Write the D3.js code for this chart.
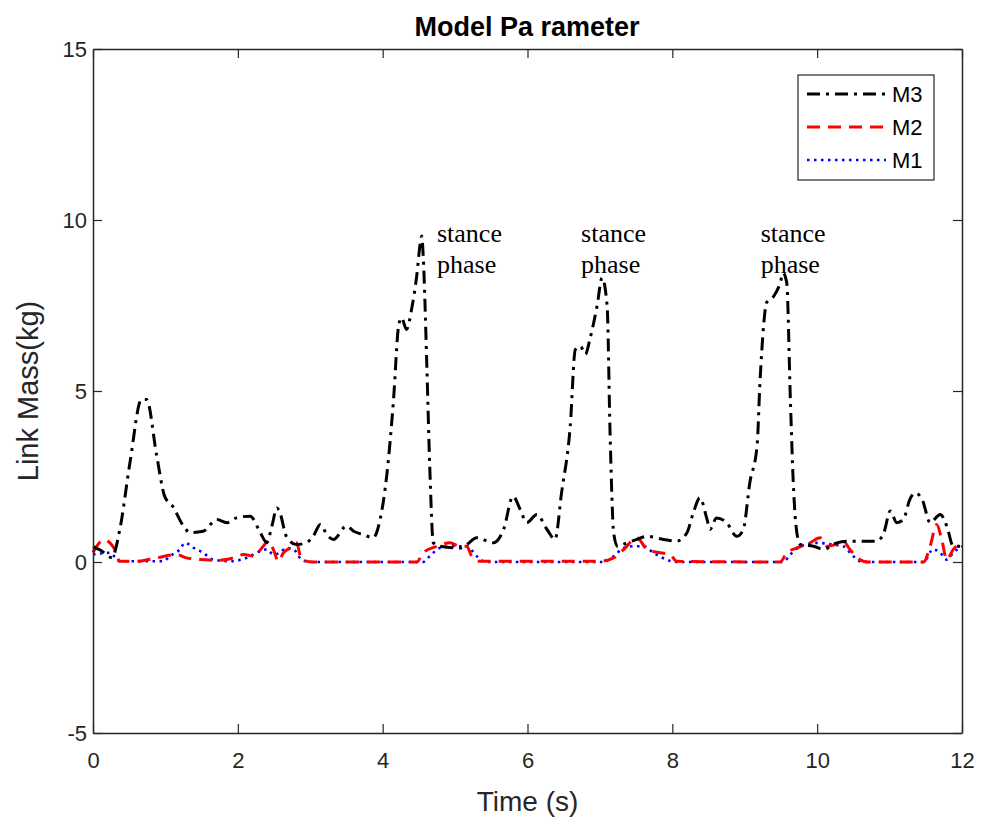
<!DOCTYPE html>
<html>
<head>
<meta charset="utf-8">
<script src="https://cdn.jsdelivr.net/npm/d3@7"></script>
<style>
  body { margin: 0; background: #fff; }
  svg { display: block; }
</style>
</head>
<body>
<div id="chart"></div>
<script>
// values
const m3Time = [0, 0.1, 0.26, 0.37, 0.51, 0.67, 0.74, 0.88, 0.99, 1.1, 1.25, 1.34, 1.52, 1.71, 1.85, 1.98, 2.17, 2.31, 2.4, 2.47, 2.54, 2.58, 2.67, 2.81, 2.95, 3.04, 3.14, 3.23, 3.32, 3.5, 3.6, 3.73, 3.87, 3.96, 4.06, 4.15, 4.22, 4.26, 4.33, 4.4, 4.47, 4.52, 4.54, 4.56, 4.61, 4.65, 4.7, 4.79, 5.07, 5.16, 5.3, 5.53, 5.67, 5.8, 5.9, 5.99, 6.13, 6.27, 6.38, 6.47, 6.59, 6.66, 6.73, 6.8, 6.86, 6.96, 7.03, 7.1, 7.14, 7.19, 7.24, 7.37, 7.51, 7.65, 7.88, 8.06, 8.2, 8.29, 8.38, 8.48, 8.52, 8.61, 8.75, 8.89, 8.98, 9.07, 9.17, 9.21, 9.26, 9.3, 9.4, 9.49, 9.53, 9.58, 9.63, 9.67, 9.72, 9.77, 9.95, 10.09, 10.27, 10.45, 10.82, 10.92, 11.01, 11.1, 11.19, 11.28, 11.35, 11.45, 11.56, 11.7, 11.79, 11.88, 12];
const m3Mass = [0.45, 0.35, 0.13, 0.95, 2.9, 4.75, 4.75, 3.1, 1.92, 1.63, 1.05, 0.86, 0.9, 1.24, 1.15, 1.29, 1.34, 0.86, 0.57, 1.05, 1.58, 1.45, 0.75, 0.51, 0.57, 0.75, 1.1, 0.8, 0.66, 1.05, 0.9, 0.8, 0.71, 1.2, 2.6, 4.75, 6.9, 7.14, 6.8, 7.4, 8.36, 9.33, 9.53, 8.94, 5.73, 2.8, 0.56, 0.46, 0.41, 0.51, 0.71, 0.56, 0.95, 1.92, 1.53, 1.15, 1.39, 0.95, 0.66, 2.02, 3.97, 6.21, 6.31, 6.07, 6.5, 7.48, 8.31, 7.48, 3.78, 0.85, 0.46, 0.56, 0.66, 0.75, 0.66, 0.61, 0.85, 1.44, 1.88, 1.24, 0.95, 1.29, 1.15, 0.75, 0.95, 2.32, 3.39, 5.24, 6.9, 7.58, 7.77, 8.16, 8.45, 8.16, 4.75, 2.32, 0.85, 0.51, 0.46, 0.37, 0.56, 0.61, 0.61, 0.85, 1.49, 1.15, 1.24, 1.83, 2.02, 1.83, 1.15, 1.39, 1.05, 0.46, 0.46];

const m2Time = [0, 0.15, 0.3, 0.37, 0.6, 0.88, 1.15, 1.29, 1.48, 1.75, 1.94, 2.08, 2.22, 2.35, 2.42, 2.49, 2.56, 2.63, 2.72, 2.81, 2.88, 3.04, 4.47, 4.56, 4.75, 4.93, 5.07, 5.16, 5.23, 5.35, 7.0, 7.19, 7.33, 7.51, 7.65, 7.83, 7.97, 8.06, 9.49, 9.58, 9.72, 9.9, 10.04, 10.14, 10.25, 10.36, 10.45, 10.59, 10.7, 11.47, 11.56, 11.65, 11.72, 11.79, 11.88, 12];
const m2Mass = [0.28, 0.65, 0.37, 0.02, 0.02, 0.12, 0.22, 0.12, 0.07, 0.05, 0.12, 0.22, 0.17, 0.46, 0.61, 0.37, 0.02, 0.27, 0.41, 0.56, 0.07, 0, 0, 0.27, 0.46, 0.56, 0.46, 0.46, 0.17, 0.02, 0.02, 0.12, 0.37, 0.71, 0.37, 0.27, 0.22, 0.02, 0, 0.27, 0.41, 0.56, 0.71, 0.46, 0.51, 0.61, 0.37, 0.07, 0, 0, 0.46, 1.1, 0.66, 0.07, 0.37, 0.6];

const m1Time = [0, 0.23, 0.37, 0.97, 1.06, 1.2, 1.27, 1.39, 1.52, 1.66, 1.91, 2.12, 2.31, 2.4, 2.49, 2.58, 2.67, 2.77, 2.88, 3.0, 4.56, 4.65, 4.79, 4.97, 5.16, 5.3, 5.42, 7.05, 7.19, 7.33, 7.47, 7.6, 7.74, 7.92, 8.05, 9.53, 9.63, 9.77, 10.0, 10.22, 10.36, 10.5, 10.62, 11.47, 11.6, 11.7, 11.79, 11.88, 12];
const m1Mass = [0.22, 0.27, 0.02, 0.02, 0.17, 0.37, 0.56, 0.41, 0.27, 0.07, 0.02, 0.12, 0.32, 0.37, 0.22, 0.27, 0.41, 0.37, 0.07, 0, 0, 0.17, 0.41, 0.46, 0.46, 0.17, 0, 0, 0.17, 0.41, 0.46, 0.46, 0.27, 0.07, 0, 0, 0.22, 0.46, 0.56, 0.51, 0.46, 0.17, 0, 0, 0.37, 0.27, 0.07, 0.27, 0.46];

const xTicks = [0, 2, 4, 6, 8, 10, 12];
const yTicks = [-5, 0, 5, 10, 15];
const seriesNames = ["M3", "M2", "M1"];
const noteTime = [4.75, 6.74, 9.22];
const noteLevel = 9.35;

const W = 985, H = 817;
const margin = {top: 49, right: 23, bottom: 84, left: 93};
const width = W - margin.left - margin.right,
      height = H - margin.top - margin.bottom;
const axisColor = "#262626";
const sans = "'Liberation Sans', Arial, sans-serif";

const svg = d3.select("#chart").append("svg")
  .attr("width", W).attr("height", H);

const x = d3.scaleLinear().domain([0, 12]).range([0, width]);
const y = d3.scaleLinear().domain([-5, 15]).range([height, 0]);

const g = svg.append("g").attr("transform", `translate(${margin.left},${margin.top})`);

// series styling, MATLAB-ish
const styles = {
  M3: {color: "#000000", dash: "13,6,3,6", width: 3},
  M2: {color: "#ff0000", dash: "13,8", width: 3},
  M1: {color: "#0000ff", dash: "2.5,4.5", width: 2.6}
};
const series = [
  {name: "M1", t: m1Time, v: m1Mass},
  {name: "M2", t: m2Time, v: m2Mass},
  {name: "M3", t: m3Time, v: m3Mass}
];

const line = d3.line()
  .x(d => x(d[0]))
  .y(d => y(d[1]))
  .curve(d3.curveMonotoneX);

g.selectAll("path.series")
  .data(series)
  .enter().append("path")
    .attr("class", "series")
    .attr("d", s => line(s.t.map((t, i) => [t, s.v[i]])))
    .attr("fill", "none")
    .attr("stroke", s => styles[s.name].color)
    .attr("stroke-width", s => styles[s.name].width)
    .attr("stroke-dasharray", s => styles[s.name].dash)
    .attr("stroke-linecap", "butt");

// axes (box on, ticks inward)
const tickLen = 9;
const fmt = d => String(d);
const xAxis = d3.axisBottom(x).tickValues(xTicks).tickFormat(fmt).tickSizeInner(-tickLen).tickSizeOuter(0).tickPadding(19);
const yAxis = d3.axisLeft(y).tickValues(yTicks).tickFormat(fmt).tickSizeInner(-tickLen).tickSizeOuter(0).tickPadding(6);

const gx = g.append("g").attr("transform", `translate(0,${height})`).call(xAxis);
const gy = g.append("g").call(yAxis);
const gxTop = g.append("g").call(d3.axisTop(x).tickValues(xTicks).tickSizeInner(-tickLen).tickSizeOuter(0).tickFormat(""));
const gyRight = g.append("g").attr("transform", `translate(${width},0)`)
  .call(d3.axisRight(y).tickValues(yTicks).tickSizeInner(-tickLen).tickSizeOuter(0).tickFormat(""));

[gx, gy, gxTop, gyRight].forEach(a => {
  a.select(".domain").attr("stroke", axisColor).attr("stroke-width", 1.5);
  a.selectAll(".tick line").attr("stroke", axisColor).attr("stroke-width", 1.2);
  a.selectAll(".tick text")
    .attr("fill", axisColor)
    .style("font-family", sans)
    .style("font-size", "22px");
});

// labels
svg.append("text")
  .attr("x", 527).attr("y", 36)
  .attr("text-anchor", "middle")
  .style("font-family", sans)
  .style("font-weight", "bold").style("font-size", "27px")
  .attr("fill", "#000")
  .text("Model Pa rameter");

svg.append("text")
  .attr("x", margin.left + width / 2).attr("y", 811)
  .attr("text-anchor", "middle")
  .style("font-family", sans)
  .style("font-size", "28px")
  .attr("fill", axisColor)
  .text("Time (s)");

svg.append("text")
  .attr("transform", `translate(38,${margin.top + height / 2}) rotate(-90)`)
  .attr("text-anchor", "middle")
  .style("font-family", sans)
  .style("font-size", "29px")
  .attr("fill", axisColor)
  .text("Link Mass(kg)");

// stance phase notes
const notes = g.selectAll("text.note")
  .data(noteTime)
  .enter().append("text")
    .attr("class", "note")
    .attr("x", d => x(d))
    .attr("y", y(noteLevel))
    .style("font-family", "'Liberation Serif', 'Times New Roman', serif")
    .style("font-size", "26px")
    .attr("fill", "#000");
notes.append("tspan").attr("x", d => x(d)).text("stance");
notes.append("tspan").attr("x", d => x(d)).attr("dy", 31).text("phase");

// legend
const legend = svg.append("g").attr("transform", "translate(798,75)");
legend.append("rect")
  .attr("width", 136).attr("height", 105)
  .attr("fill", "#fff")
  .attr("stroke", axisColor).attr("stroke-width", 1.2);

const rowY = d3.scalePoint().domain(seriesNames).range([19, 85]);
const rows = legend.selectAll("g.row")
  .data(seriesNames)
  .enter().append("g")
    .attr("class", "row")
    .attr("transform", d => `translate(0,${rowY(d)})`);
rows.append("line")
  .attr("x1", 9).attr("x2", 88)
  .attr("stroke", d => styles[d].color)
  .attr("stroke-width", d => styles[d].width)
  .attr("stroke-dasharray", d => styles[d].dash);
rows.append("text")
  .attr("x", 94).attr("dy", "0.36em")
  .style("font-family", sans)
  .style("font-size", "22px")
  .attr("fill", "#000")
  .text(d => d);
</script>
</body>
</html>
